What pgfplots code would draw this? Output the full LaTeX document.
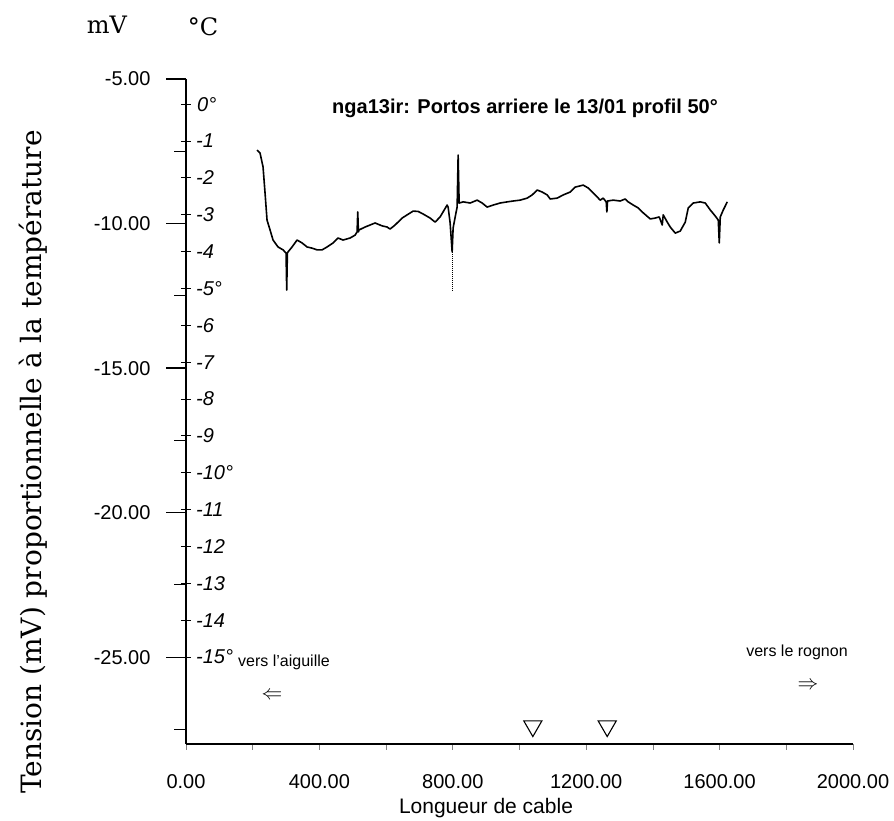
\documentclass[border=0pt]{standalone}
\usepackage{pgfplots}
\pgfplotsset{compat=1.18}
\usepackage{fontspec}
\setmainfont{Liberation Sans}
\newfontfamily\serifx{DejaVu Serif}
\begin{document}
\begin{tikzpicture}
\useasboundingbox (-186pt,-77pt) rectangle (708pt,744pt);
\begin{axis}[at={(0pt,0pt)}, anchor=south west, scale only axis,
 width=667pt, height=665pt,
 xmin=0, xmax=2000, ymin=-28, ymax=-5,
 clip=false,
 axis lines*=left,
 axis line style={line width=1.3pt},
 xtick={0,400,...,2000},
 minor xtick={200,600,...,1800},
 ytick={-25,-20,...,-5},
 tick align=outside,
 major tick length=6pt, minor tick length=6pt,
 xtick style={line width=0.8pt},
 ytick style={draw=none},
 scaled ticks=false,
 tick label style={font=\fontsize{20}{24}\selectfont},
 yticklabel style={xshift=-26pt},
 xticklabel style={yshift=-21pt},
 /pgf/number format/assume math mode=true,
 /pgf/number format/fixed,
 /pgf/number format/fixed zerofill,
 /pgf/number format/precision=2,
 /pgf/number format/1000 sep={},
]
\addplot[black, line width=1.6pt, line join=round, mark=none] coordinates {
(213,-7.46)(222,-7.56)(231,-8.04)(237,-8.94)(243,-9.88)(252,-10.22)(261,-10.57)
(276,-10.81)(291,-10.91)(300,-11.02)(302,-12.30)(304,-11.02)(306,-10.98)
(318,-10.81)(333,-10.57)(348,-10.67)(363,-10.81)(378,-10.85)(393,-10.91)
(408,-10.91)(423,-10.81)(441,-10.67)(456,-10.50)(471,-10.57)(492,-10.50)
(507,-10.40)(513,-10.29)(515,-9.60)(517,-10.29)(519,-10.22)(537,-10.12)
(567,-9.98)(588,-10.08)(603,-10.12)(612,-10.19)(627,-10.05)(648,-9.81)
(663,-9.70)(681,-9.57)(696,-9.58)(711,-9.67)(732,-9.81)(747,-9.95)(762,-9.77)
(783,-9.36)(786,-9.43)(792,-9.98)(798,-10.98)(801,-10.15)(810,-9.60)(813,-9.43)
(816,-7.63)(819,-9.29)(831,-9.25)(852,-9.29)(873,-9.19)(888,-9.29)(903,-9.43)
(921,-9.36)(942,-9.29)(963,-9.25)(981,-9.22)(1002,-9.19)(1023,-9.12)(1038,-9.01)
(1053,-8.84)(1068,-8.91)(1083,-9.01)(1092,-9.15)(1113,-9.12)(1131,-9.01)
(1152,-8.91)(1167,-8.74)(1191,-8.67)(1206,-8.77)(1221,-8.94)(1242,-9.19)
(1251,-9.12)(1260,-9.25)(1262,-9.60)(1264,-9.22)(1281,-9.19)(1302,-9.22)
(1317,-9.15)(1326,-9.25)(1341,-9.36)(1356,-9.46)(1371,-9.63)(1392,-9.84)
(1407,-9.81)(1419,-9.77)(1428,-10.05)(1431,-9.70)(1443,-9.95)(1452,-10.12)
(1467,-10.33)(1482,-10.26)(1497,-9.95)(1506,-9.46)(1521,-9.29)(1542,-9.25)
(1557,-9.29)(1572,-9.53)(1587,-9.74)(1596,-9.88)(1599,-10.67)(1602,-9.77)
(1611,-9.53)(1623,-9.25)
};
\addplot[black, densely dotted, line width=1pt, mark=none] coordinates {(798,-10.98)(798,-12.3)};
\addplot[only marks, mark=triangle, mark size=10.5pt,
 mark options={rotate=180, line width=1.1pt, draw=black, fill=white}]
 coordinates {(1040,-27.38)(1263,-27.38)};
% y ticks
\pgfplotsinvokeforeach{-5,-10,-15,-20,-25}{
 \draw[line width=1.3pt] (axis cs:0,#1) -- ++(-20pt,0pt);}
\pgfplotsinvokeforeach{-7.5,-12.5,-17.5,-22.5,-27.5}{
 \draw[line width=1pt] (axis cs:0,#1) -- ++(-12pt,0pt);}
% degree scale
\pgfplotsinvokeforeach{-5.87,-7.145,-8.42,-9.695,-10.97,-12.245,-13.52,-14.795,-16.07,-17.345,-18.62,-19.895,-21.17,-22.445,-23.72,-24.995}{
 \draw[line width=1pt] (axis cs:0,#1) ++(-5pt,0pt) -- ++(10pt,0pt);}
\begin{scope}[every node/.style={anchor=west, font=\itshape\fontsize{20}{22}\selectfont, inner sep=0pt}]
\node at ([xshift=11pt]axis cs:0,-5.87) {0°};
\node at ([xshift=10pt]axis cs:0,-7.145) {-1};
\node at ([xshift=10pt]axis cs:0,-8.42) {-2};
\node at ([xshift=10pt]axis cs:0,-9.695) {-3};
\node at ([xshift=10pt]axis cs:0,-10.97) {-4};
\node at ([xshift=10pt]axis cs:0,-12.245) {-5°};
\node at ([xshift=10pt]axis cs:0,-13.52) {-6};
\node at ([xshift=10pt]axis cs:0,-14.795) {-7};
\node at ([xshift=10pt]axis cs:0,-16.07) {-8};
\node at ([xshift=10pt]axis cs:0,-17.345) {-9};
\node at ([xshift=10pt]axis cs:0,-18.62) {-10°};
\node at ([xshift=10pt]axis cs:0,-19.895) {-11};
\node at ([xshift=10pt]axis cs:0,-21.17) {-12};
\node at ([xshift=10pt]axis cs:0,-22.445) {-13};
\node at ([xshift=10pt]axis cs:0,-23.72) {-14};
\node at ([xshift=10pt]axis cs:0,-24.995) {-15°};
\end{scope}
\end{axis}
\node[font=\bfseries\fontsize{20}{24}\selectfont] at (339pt,636pt) {nga13ir: Portos arriere le 13/01 profil 50°};
\node[font=\fontsize{21}{24}\selectfont] at (300pt,-64pt) {Longueur de cable};
\node[font=\fontsize{16}{18}\selectfont] at (98pt,82pt) {vers l'aiguille};
\node[font=\fontsize{16}{18}\selectfont] at (611pt,92pt) {vers le rognon};
\node[font=\fontsize{22}{24}\selectfont] at (86pt,48pt) {$\Leftarrow$};
\node[font=\fontsize{22}{24}\selectfont] at (622pt,58pt) {$\Rightarrow$};
\node[font=\serifx\fontsize{24}{28}\selectfont] at (-79pt,719pt) {mV};
\node[font=\serifx\fontsize{24}{28}\selectfont] at (17pt,717pt) {°C};
\node[font=\serifx\fontsize{28}{32}\selectfont, rotate=90] at (-153pt,282pt) {Tension (mV) proportionnelle à la température};
\end{tikzpicture}
\end{document}
